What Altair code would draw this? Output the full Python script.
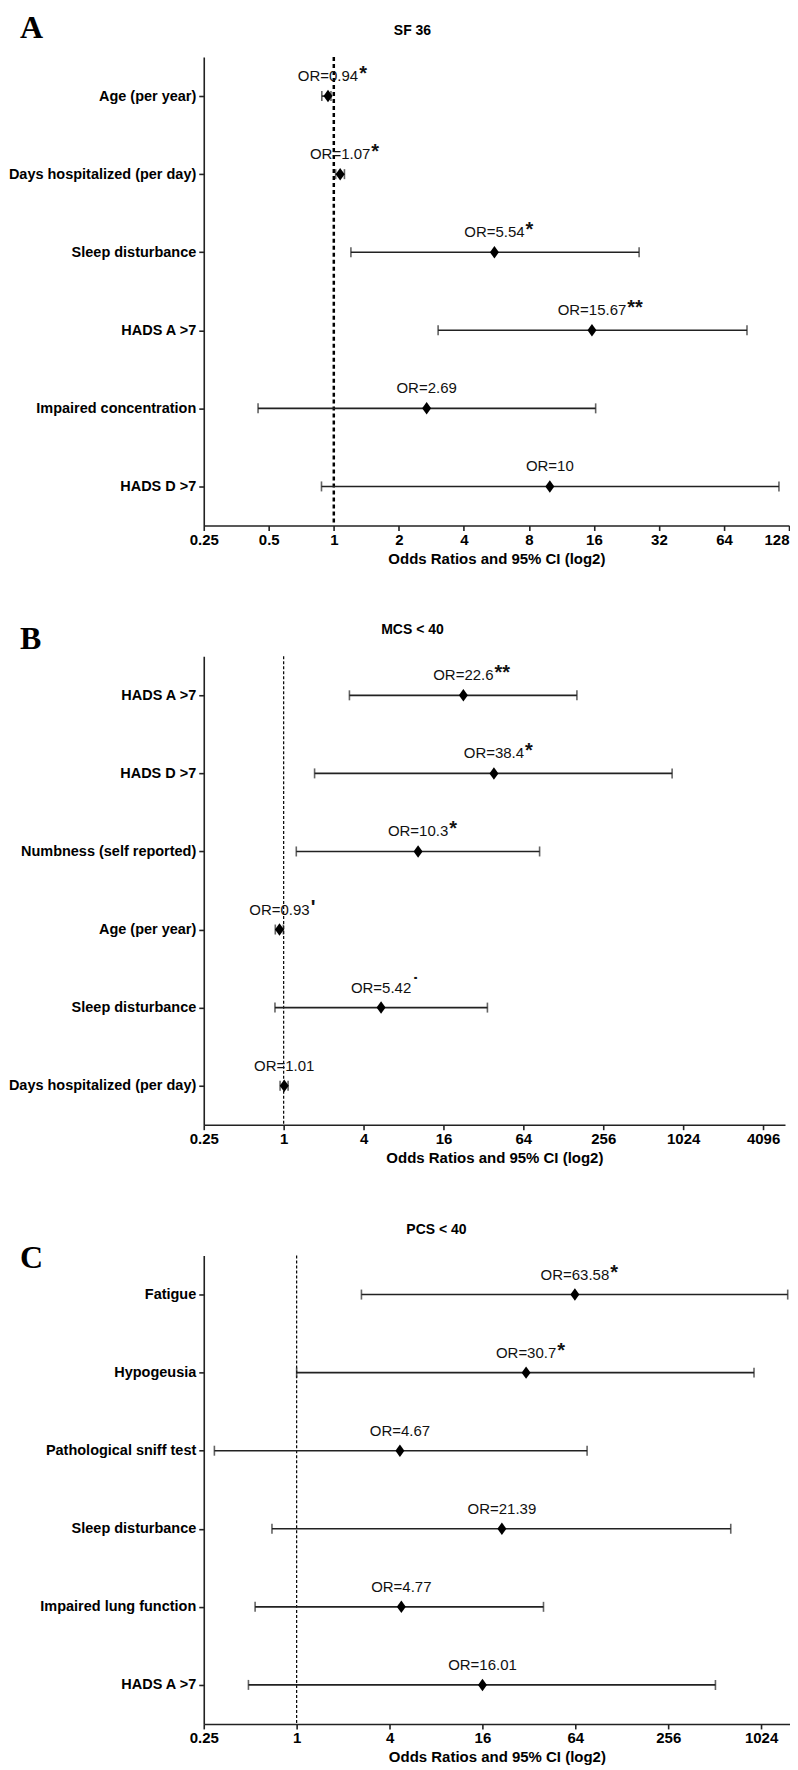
import math
import altair as alt
import pandas as pd

FONT = "Liberation Sans"
SERIF = "Liberation Serif"

# ---------------- Panel A : SF 36 ----------------
a_labels = ["Age (per year)", "Days hospitalized (per day)", "Sleep disturbance",
            "HADS A >7", "Impaired concentration", "HADS D >7"]
a_or = [0.94, 1.07, 5.54, 15.67, 2.69, 10]
a_lo = [0.88, 1.02, 1.2, 3.04, 0.446, 0.877]
a_hi = [0.97, 1.12, 25.9, 81.8, 16.3, 115]
a_sig = ["*", "*", "*", "**", "", ""]
a_ticks = [0.25, 0.5, 1, 2, 4, 8, 16, 32, 64, 128]
a_max = 128

# ---------------- Panel B : MCS < 40 ----------------
b_labels = ["HADS A >7", "HADS D >7", "Numbness (self reported)",
            "Age (per year)", "Sleep disturbance", "Days hospitalized (per day)"]
b_or = [22.6, 38.4, 10.3, 0.93, 5.42, 1.01]
b_lo = [3.13, 1.71, 1.245, 0.865, 0.86, 0.94]
b_hi = [162, 845, 84.8, 0.995, 34.3, 1.08]
b_sig = ["**", "*", "*", "'", "˙", ""]
b_ticks = [0.25, 1, 4, 16, 64, 256, 1024, 4096]
b_max = 5990

# ---------------- Panel C : PCS < 40 ----------------
c_labels = ["Fatigue", "Hypogeusia", "Pathological sniff test",
            "Sleep disturbance", "Impaired lung function", "HADS A >7"]
c_or = [63.58, 30.7, 4.67, 21.39, 4.77, 16.01]
c_lo = [2.63, 1.0, 0.293, 0.692, 0.538, 0.487]
c_hi = [1523, 921, 76.3, 651, 39.8, 518]
c_sig = ["*", "*", "", "", "", ""]
c_ticks = [0.25, 1, 4, 16, 64, 256, 1024]
c_max = 1576

XMIN = 0.25
LABEL_FS = 15
EM = {"O": .778, "R": .722, "=": .584, ".": .278}


def half_width(txt):
    return LABEL_FS * sum(EM.get(ch, .556) for ch in txt) / 2.0


def panel(labels, ors, los, his, sigs, ticks, xmax, width, title, title_x,
          letter, letter_y, dash, dash_w):
    df = pd.DataFrame({"label": labels, "or": ors, "lo": los, "hi": his, "sig": sigs})
    df["txt"] = ["OR=" + f"{v:g}" for v in ors]
    # star sits just right of the OR label: shift by the label's half width
    ppd = width / math.log2(xmax / XMIN)
    df["star_x"] = [v * 2 ** ((half_width(t) + 1) / ppd) for v, t in zip(ors, df["txt"])]

    xs = alt.Scale(type="log", base=2, domain=[XMIN, xmax], nice=False)
    xaxis = alt.Axis(values=ticks, format="~g", title="Odds Ratios and 95% CI (log2)",
                     labelFlush=False, grid=False,
                     labelAlign={"condition": {"test": f"datum.value >= {xmax}",
                                               "value": "right"},
                                 "value": "center"})
    ys = alt.Scale(type="point", padding=0.5, domain=labels)
    yaxis = alt.Axis(title=None, grid=False, labelLimit=400)

    def X(f):
        return alt.X(f, type="quantitative", scale=xs, axis=xaxis)

    Y = alt.Y("label:N", scale=ys, axis=yaxis, sort=labels)

    base = alt.Chart(df)
    ref = alt.Chart(pd.DataFrame({"v": [1]})).mark_rule(
        color="black", strokeDash=dash, strokeWidth=dash_w).encode(x=X("v"))
    bars = base.mark_rule(color="#222", strokeWidth=1.6).encode(
        x=X("lo"), x2="hi", y=Y)
    caps = base.transform_fold(["lo", "hi"], as_=["end", "val"]).mark_tick(
        color="#222", size=10, thickness=1.6).encode(x=X("val"), y=Y)
    pts = base.mark_point(shape="M0,-1.25L0.9,0L0,1.25L-0.9,0Z", filled=True,
                          size=100, color="black", opacity=1).encode(x=X("or"), y=Y)
    txt = base.mark_text(dy=-20, fontSize=LABEL_FS, font=FONT, color="#111").encode(
        x=X("or"), y=Y, text="txt:N")
    stars = base.mark_text(dy=-22, align="left", fontSize=20, fontWeight="bold",
                           font=FONT, color="#111").encode(
        x=X("star_x"), y=Y, text="sig:N")
    let = alt.Chart(pd.DataFrame({"t": [letter]})).mark_text(
        font=SERIF, fontSize=32, fontWeight="bold", align="left",
        baseline="alphabetic", color="black").encode(
        x=alt.value(-184), y=alt.value(letter_y), text="t:N")
    ttl = alt.Chart(pd.DataFrame({"t": [title]})).mark_text(
        font=FONT, fontSize=14, fontWeight="bold", align="center",
        baseline="middle", color="black").encode(
        x=alt.value(title_x), y=alt.value(-26), text="t:N")

    return alt.layer(ref, bars, caps, pts, txt, stars, let, ttl).properties(
        width=width, height=469)


pa = panel(a_labels, a_or, a_lo, a_hi, a_sig, a_ticks, a_max, 586, "SF 36", 209,
           "A", -19, [4, 3], 2.5)
pb = panel(b_labels, b_or, b_lo, b_hi, b_sig, b_ticks, b_max, 582, "MCS < 40", 209,
           "B", -7, [3, 2], 1.2)
pc = panel(c_labels, c_or, c_lo, c_hi, c_sig, c_ticks, c_max, 587, "PCS < 40", 233,
           "C", 12, [3, 2], 1.2)

chart = alt.vconcat(pa, pb, pc, spacing=131, bounds="flush").resolve_scale(
    x="independent", y="independent").properties(
    padding={"left": 0, "top": 3, "right": 0, "bottom": 0}
).configure_view(stroke=None).configure_axis(
    domainColor="#222", domainWidth=1.6, tickColor="#222", tickWidth=1.6,
    tickSize=5, labelColor="black", titleColor="black",
    labelFont=FONT, titleFont=FONT, labelFontWeight="bold", titleFontWeight="bold"
).configure_axisY(
    labelFontSize=14.5, labelPadding=3
).configure_axisX(
    labelFontSize=15, labelPadding=2, titleFontSize=15, titlePadding=4
)

chart.save("out.html", embed_options={"renderer": "svg", "actions": False})
